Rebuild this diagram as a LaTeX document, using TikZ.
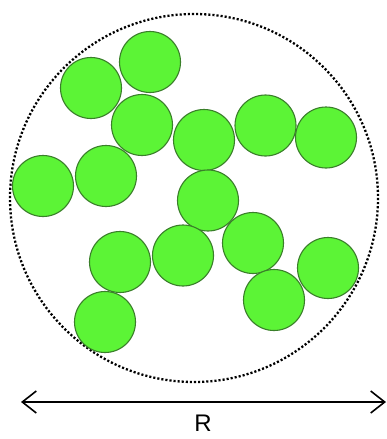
\documentclass[tikz,border=0pt]{standalone}
\usepackage{fontspec}
\setmainfont{Liberation Sans}
\usetikzlibrary{arrows.meta}
\definecolor{ballfill}{HTML}{5CF436}
\definecolor{ballline}{HTML}{3A7F2A}
\begin{document}
\begin{tikzpicture}[x=1pt,y=-1pt,
  ball/.style={circle,draw=ballline,fill=ballfill,line width=1.1pt,minimum size=61pt,inner sep=0pt},
  boundary/.style={draw=black,line width=2.3pt,dash pattern=on 2.1pt off 2.0pt},
  dimline/.style={line width=1.6pt,{Straight Barb[length=14pt,width=22pt,line width=1.6pt]}-{Straight Barb[length=14pt,width=22pt,line width=1.6pt]}},
  lbl/.style={font=\fontsize{24}{27}\selectfont,inner sep=0pt}]
\useasboundingbox (0,0) rectangle (387,439);
\draw[boundary] (194,198) circle (184);
\node[ball] (b1) at (150,62) {};
\node[ball] (b2) at (91,88) {};
\node[ball] (b3) at (142,125) {};
\node[ball] (b4) at (204,140) {};
\node[ball] (b5) at (265.5,125.5) {};
\node[ball] (b6) at (326,137.5) {};
\node[ball] (b7) at (43,186) {};
\node[ball] (b8) at (106,176) {};
\node[ball] (b9) at (208,200.5) {};
\node[ball] (b10) at (120,262) {};
\node[ball] (b11) at (183,255.5) {};
\node[ball] (b12) at (253,243) {};
\node[ball] (b13) at (328,268) {};
\node[ball] (b14) at (274,300) {};
\node[ball] (b15) at (105,322) {};
\coordinate (aL) at (21,402);
\coordinate (aR) at (386,402);
\draw[dimline] (aL) -- (aR);
\node[lbl] (R) at (203,423) {R};
\end{tikzpicture}
\end{document}
